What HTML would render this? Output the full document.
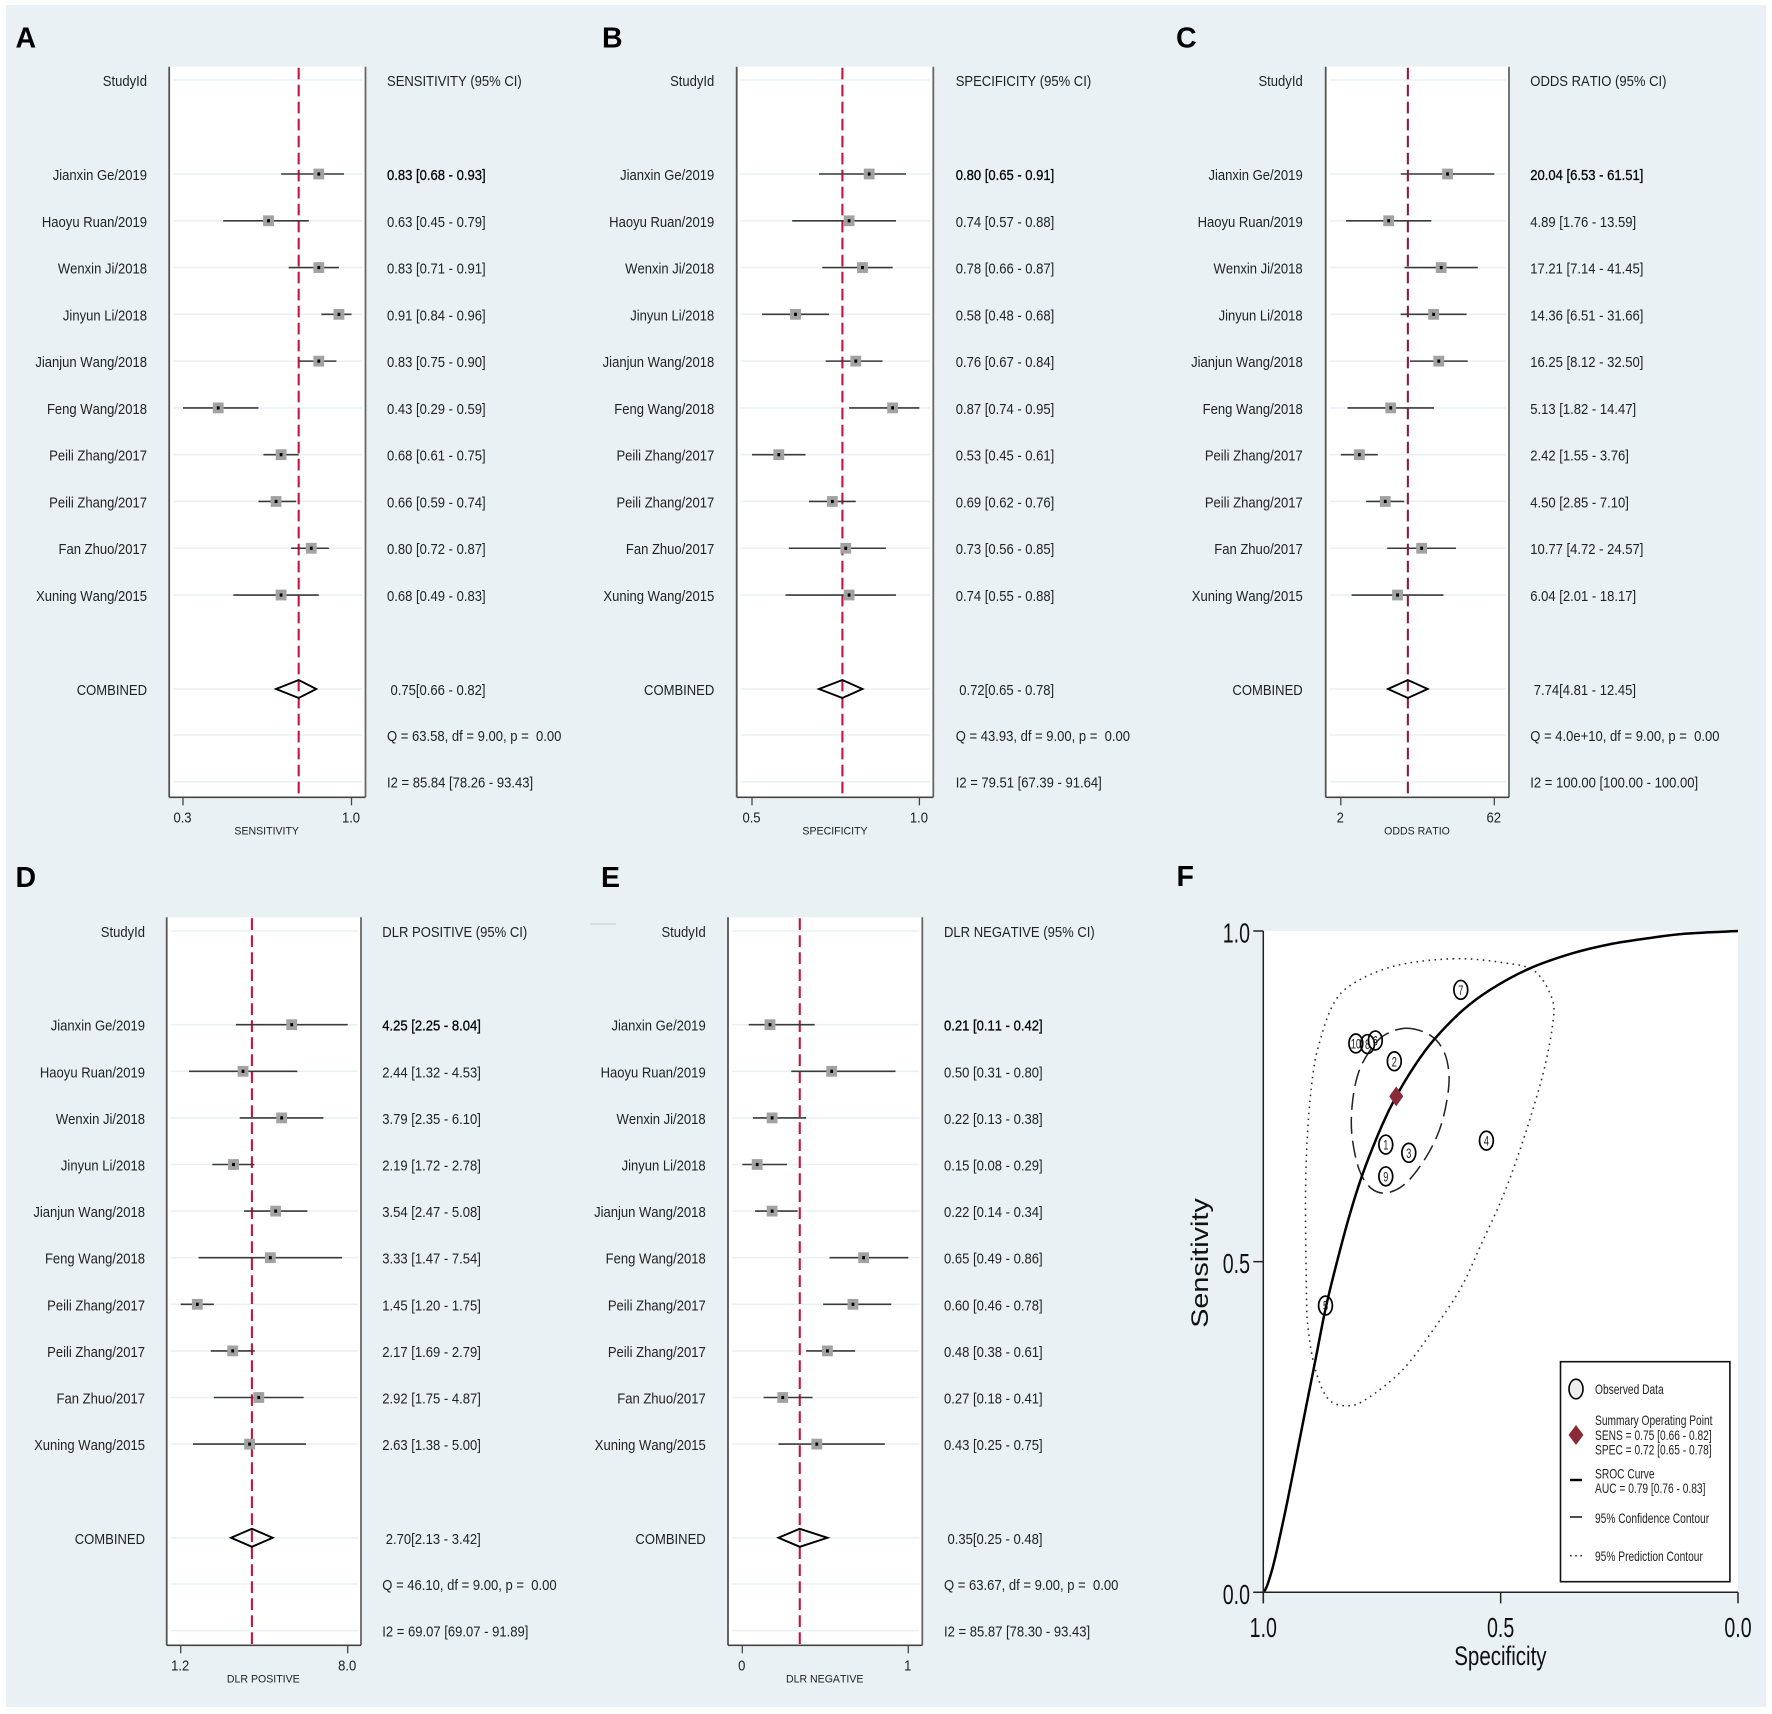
<!DOCTYPE html>
<html lang="en">
<head>
<meta charset="utf-8">
<title>Forest plots and SROC curve</title>
<style>
html,body{margin:0;padding:0;background:#fff;}
svg{display:block;filter:blur(0.35px);}
text{font-family:"Liberation Sans",Arial,sans-serif;white-space:pre;fill:#222;font-kerning:none;}
</style>
</head>
<body>
<svg id="root" xmlns="http://www.w3.org/2000/svg" width="1772" height="1714" viewBox="0 0 1772 1714">
<rect x="6" y="5" width="1760" height="1702" fill="#eaf1f4"/>
</svg>
<script>
const studies = ["Jianxin Ge/2019","Haoyu Ruan/2019","Wenxin Ji/2018","Jinyun Li/2018","Jianjun Wang/2018","Feng Wang/2018","Peili Zhang/2017","Peili Zhang/2017","Fan Zhuo/2017","Xuning Wang/2015"];

const sensEst = [0.83,0.63,0.83,0.91,0.83,0.43,0.68,0.66,0.80,0.68];
const sensLo  = [0.68,0.45,0.71,0.84,0.75,0.29,0.61,0.59,0.72,0.49];
const sensHi  = [0.93,0.79,0.91,0.96,0.90,0.59,0.75,0.74,0.87,0.83];
const sensCombined = [0.75,0.66,0.82];
const sensTicks = [0.29,0.96];
const sensTickLabels = ["0.3","1.0"];

const specEst = [0.80,0.74,0.78,0.58,0.76,0.87,0.53,0.69,0.73,0.74];
const specLo  = [0.65,0.57,0.66,0.48,0.67,0.74,0.45,0.62,0.56,0.55];
const specHi  = [0.91,0.88,0.87,0.68,0.84,0.95,0.61,0.76,0.85,0.88];
const specCombined = [0.72,0.65,0.78];
const specTicks = [0.45,0.95];
const specTickLabels = ["0.5","1.0"];

const orEst = [20.04,4.89,17.21,14.36,16.25,5.13,2.42,4.50,10.77,6.04];
const orLo  = [6.53,1.76,7.14,6.51,8.12,1.82,1.55,2.85,4.72,2.01];
const orHi  = [61.51,13.59,41.45,31.66,32.50,14.47,3.76,7.10,24.57,18.17];
const orCombined = [7.74,4.81,12.45];
const orTicks = [1.55,61.51];
const orTickLabels = ["2","62"];

const dlrPosEst = [4.25,2.44,3.79,2.19,3.54,3.33,1.45,2.17,2.92,2.63];
const dlrPosLo  = [2.25,1.32,2.35,1.72,2.47,1.47,1.20,1.69,1.75,1.38];
const dlrPosHi  = [8.04,4.53,6.10,2.78,5.08,7.54,1.75,2.79,4.87,5.00];
const dlrPosCombined = [2.70,2.13,3.42];
const dlrPosTicks = [1.20,8.04];
const dlrPosTickLabels = ["1.2","8.0"];

const dlrNegEst = [0.21,0.50,0.22,0.15,0.22,0.65,0.60,0.48,0.27,0.43];
const dlrNegLo  = [0.11,0.31,0.13,0.08,0.14,0.49,0.46,0.38,0.18,0.25];
const dlrNegHi  = [0.42,0.80,0.38,0.29,0.34,0.86,0.78,0.61,0.41,0.75];
const dlrNegCombined = [0.35,0.25,0.48];
const dlrNegTicks = [0.08,0.86];
const dlrNegTickLabels = ["0","1"];

const srocFpr  = [0,0.005,0.01,0.02,0.03,0.05,0.07,0.09,0.11,0.13,0.15,0.18,0.21,0.25,0.28,0.32,0.36,0.42,0.48,0.56,0.65,0.73,0.81,0.89,1];
const srocSens = [0,0.005,0.014,0.038,0.068,0.135,0.207,0.28,0.352,0.425,0.485,0.566,0.634,0.706,0.75,0.7975,0.836,0.88,0.912,0.943,0.966,0.98,0.989,0.996,1];

const confFpr  = [0.301,0.350,0.379,0.391,0.387,0.371,0.342,0.301,0.260,0.227,0.202,0.187,0.187,0.198,0.219,0.252];
const confSens = [0.853,0.843,0.820,0.785,0.745,0.699,0.657,0.619,0.604,0.611,0.639,0.689,0.735,0.780,0.813,0.841];

const predFpr  = [0.399,0.506,0.572,0.609,0.609,0.593,0.572,0.543,0.506,0.457,0.416,0.358,0.293,0.219,0.178,0.136,0.108,0.094,0.091,0.089,0.094,0.104,0.116,0.145,0.186,0.276];
const predSens = [0.958,0.952,0.939,0.896,0.856,0.795,0.740,0.674,0.601,0.523,0.460,0.397,0.336,0.293,0.282,0.293,0.341,0.402,0.450,0.604,0.704,0.780,0.825,0.886,0.919,0.947];

const obsFpr  = [0.195,0.258,0.2195,0.416,0.236,0.131,0.470,0.3065,0.276,0.258];
const obsSens = [0.830,0.629,0.829,0.911,0.8345,0.4336,0.683,0.6646,0.803,0.677];

const rocTicks = [0,0.5,1];
const rocTickLabels = ["0.0","0.5","1.0"];

const NS = "http://www.w3.org/2000/svg";
const root = document.getElementById("root");

function mk(parent, tag, name, attrs) {
  const el = document.createElementNS(NS, tag);
  
  
  for (const k in attrs) el.setAttribute(k, attrs[k]);
  parent.appendChild(el);
  return el;
}
function txt(parent, name, str, x, y, o) {
  o = o || {};
  const sx = o.sx === undefined ? 0.9 : o.sx;
  const t = mk(parent, "text", name, {
    transform: o.transform || ("translate(" + x + " " + y + ") scale(" + sx + " 1)"),
    "font-size": o.size || 14.5,
    "text-anchor": o.anchor || "start"
  });
  if (o.weight) t.setAttribute("font-weight", o.weight);
  if (o.fill) t.style.fill = o.fill;
  if (o.bold) { t.style.stroke = "#111"; t.style.strokeWidth = "0.3"; t.style.fill = "#000"; }
  t.textContent = str;
  return t;
}
function line(parent, name, x1, y1, x2, y2, stroke, w, dash) {
  const l = mk(parent, "line", name, {x1, y1, x2, y2, stroke, "stroke-width": w});
  if (dash) l.setAttribute("stroke-dasharray", dash);
  return l;
}
function linearAxis(domain, range) {
  return v => range[0] + (v - domain[0]) / (domain[1] - domain[0]) * (range[1] - range[0]);
}
function logAxis(domain, range) {
  return v => range[0] + Math.log(v / domain[0]) / Math.log(domain[1] / domain[0]) * (range[1] - range[0]);
}
const f2 = v => v.toFixed(2);

function drawForest(c) {
  const g = mk(root, "g", "forest-plot-" + c.id, {});
  const x = (c.log ? logAxis : linearAxis)(c.ticks, c.tickPx);
  mk(g, "rect", "plot-area", {x: c.left, y: c.top, width: c.right - c.left, height: c.bottom - c.top, fill: "#fff"});
  txt(g, "panel-letter", c.letter, c.letterX, c.letterY, {size: 28.5, weight: "bold", sx: 1, fill: "#000"});

  const rowY = i => c.first + i * c.step;
  const gridYs = [c.header].concat(studies.map((s, i) => rowY(i)), [c.combined, c.qY, c.i2Y]);
  gridYs.forEach(y => {
    line(g, "grid-line", c.left + 4, y, c.right - 3, y, "#e9f1f5", 1.6);
  });

  line(g, "left-axis", c.left, c.top, c.left, c.bottom, "#555", 1.8);
  line(g, "right-axis", c.right, c.top, c.right, c.bottom, "#666", 1.8);
  line(g, "x-axis", c.left, c.bottom, c.right, c.bottom, "#444", 1.6);

  c.ticks.forEach((t, i) => {
    line(g, "x-tick", x(t), c.bottom, x(t), c.bottom + 8, "#444", 1.3);
    txt(g, "x-tick-label", c.tickLabels[i], x(t) - 0.5, c.bottom + 25, {anchor: "middle"});
  });
  txt(g, "x-axis-title", c.xlabel, c.xlabelX, c.bottom + 37, {anchor: "middle", size: 11.5, sx: 0.92});

  txt(g, "study-column-header", "StudyId", c.labelX, c.header + 6, {anchor: "end"});
  txt(g, "ci-column-header", c.title, c.ciX, c.header + 6);

  line(g, "combined-estimate-line", x(c.comb[0]), c.top + 1, x(c.comb[0]), c.bottom, c.red, 2.1, "11.7 5.3");

  studies.forEach((s, i) => {
    const y = rowY(i);
    txt(g, "study-label", s, c.labelX, y + 6, {anchor: "end"});
    line(g, "ci-line", x(c.lo[i]), y, x(c.hi[i]), y, "#3a3a3a", 1.6);
    mk(g, "rect", "study-marker", {x: x(c.est[i]) - 5.4, y: y - 5.4, width: 10.8, height: 10.8, fill: "#a2a2a2"});
    mk(g, "rect", "study-marker-centre", {x: x(c.est[i]) - 1.4, y: y - 1.6, width: 2.8, height: 3.2, fill: "#000"});
    txt(g, "study-ci-text", f2(c.est[i]) + " [" + f2(c.lo[i]) + " - " + f2(c.hi[i]) + "]", c.ciX, y + 6, {bold: i === 0});
  });

  const cy = c.combined;
  txt(g, "combined-label", "COMBINED", c.labelX, cy + 6, {anchor: "end"});
  mk(g, "polygon", "combined-diamond", {
    points: [x(c.comb[1]) + "," + cy, x(c.comb[0]) + "," + (cy - 9), x(c.comb[2]) + "," + cy, x(c.comb[0]) + "," + (cy + 9)].join(" "),
    fill: "none", stroke: "#000", "stroke-width": 1.9
  });
  txt(g, "combined-ci-text", f2(c.comb[0]) + "[" + f2(c.comb[1]) + " - " + f2(c.comb[2]) + "]", c.ciX + 3.5, cy + 6);
  txt(g, "heterogeneity-q", c.q, c.ciX, c.qY + 6);
  txt(g, "heterogeneity-i2", c.i2, c.ciX, c.i2Y + 6);
}

const TOP = {top: 66.7, bottom: 797.3, header: 80, first: 174, step: 46.78, combined: 689, qY: 735, i2Y: 781.7};
const BOT = {top: 917.3, bottom: 1645.3, header: 931, first: 1024.7, step: 46.6, combined: 1537.8, qY: 1584, i2Y: 1630.7};

drawForest(Object.assign({}, TOP, {id: "sensitivity", letter: "A", letterX: 15.5, letterY: 47.5, left: 169.2, right: 365.5, labelX: 147, ciX: 387, xlabelX: 266.7,
  title: "SENSITIVITY (95% CI)", xlabel: "SENSITIVITY", est: sensEst, lo: sensLo, hi: sensHi, comb: sensCombined, ticks: sensTicks, tickLabels: sensTickLabels, tickPx: [183, 351.5], log: false, red: "#c8143c",
  q: "Q = 63.58, df = 9.00, p =  0.00", i2: "I2 = 85.84 [78.26 - 93.43]"}));
drawForest(Object.assign({}, TOP, {id: "specificity", letter: "B", letterX: 602, letterY: 47.5, left: 736.7, right: 933.3, labelX: 714.3, ciX: 955.7, xlabelX: 835,
  title: "SPECIFICITY (95% CI)", xlabel: "SPECIFICITY", est: specEst, lo: specLo, hi: specHi, comb: specCombined, ticks: specTicks, tickLabels: specTickLabels, tickPx: [752, 919.4], log: false, red: "#c8143c",
  q: "Q = 43.93, df = 9.00, p =  0.00", i2: "I2 = 79.51 [67.39 - 91.64]"}));
drawForest(Object.assign({}, TOP, {id: "odds-ratio", letter: "C", letterX: 1176, letterY: 47.5, left: 1325.7, right: 1509, labelX: 1302.7, ciX: 1530.3, xlabelX: 1417,
  title: "ODDS RATIO (95% CI)", xlabel: "ODDS RATIO", est: orEst, lo: orLo, hi: orHi, comb: orCombined, ticks: orTicks, tickLabels: orTickLabels, tickPx: [1340.8, 1494.3], log: true, red: "#8f1a44",
  q: "Q = 4.0e+10, df = 9.00, p =  0.00", i2: "I2 = 100.00 [100.00 - 100.00]"}));
drawForest(Object.assign({}, BOT, {id: "dlr-positive", letter: "D", letterX: 15.5, letterY: 887, left: 166.7, right: 361, labelX: 145, ciX: 382.3, xlabelX: 263.3,
  title: "DLR POSITIVE (95% CI)", xlabel: "DLR POSITIVE", est: dlrPosEst, lo: dlrPosLo, hi: dlrPosHi, comb: dlrPosCombined, ticks: dlrPosTicks, tickLabels: dlrPosTickLabels, tickPx: [180.7, 347.7], log: true, red: "#c8143c",
  q: "Q = 46.10, df = 9.00, p =  0.00", i2: "I2 = 69.07 [69.07 - 91.89]"}));
drawForest(Object.assign({}, BOT, {id: "dlr-negative", letter: "E", letterX: 601, letterY: 887, left: 728, right: 922.3, labelX: 705.7, ciX: 944, xlabelX: 824.7,
  title: "DLR NEGATIVE (95% CI)", xlabel: "DLR NEGATIVE", est: dlrNegEst, lo: dlrNegLo, hi: dlrNegHi, comb: dlrNegCombined, ticks: dlrNegTicks, tickLabels: dlrNegTickLabels, tickPx: [742.3, 908.3], log: false, red: "#c8143c",
  q: "Q = 63.67, df = 9.00, p =  0.00", i2: "I2 = 85.87 [78.30 - 93.43]"}));

line(root, "scan-artifact", 590, 924, 616, 924, "#c6cbce", 1);

/* Panel F: SROC */
(function () {
  const g = mk(root, "g", "sroc-plot", {});
  const L = 1263.3, R = 1738, T = 931, B = 1592.3;
  const xFpr = linearAxis([0, 1], [L, R]);
  const ySens = linearAxis([0, 1], [B, T]);

  mk(g, "rect", "sroc-plot-area", {x: L, y: T, width: R - L, height: B - T, fill: "#fff"});
  txt(g, "panel-letter", "F", 1176.5, 886, {size: 28.5, weight: "bold", sx: 1, fill: "#000"});

  function smoothClosed(xs, ys) {
    const n = xs.length, P = xs.map((v, i) => [xFpr(v), ySens(ys[i])]);
    let d = "M" + P[0][0] + " " + P[0][1];
    for (let i = 0; i < n; i++) {
      const p0 = P[(i - 1 + n) % n], p1 = P[i], p2 = P[(i + 1) % n], p3 = P[(i + 2) % n];
      d += " C" + (p1[0] + (p2[0] - p0[0]) / 6) + " " + (p1[1] + (p2[1] - p0[1]) / 6) + " " +
        (p2[0] - (p3[0] - p1[0]) / 6) + " " + (p2[1] - (p3[1] - p1[1]) / 6) + " " + p2[0] + " " + p2[1];
    }
    return d + "Z";
  }
  function smoothOpen(xs, ys) {
    const P = xs.map((v, i) => [xFpr(v), ySens(ys[i])]), n = P.length;
    let d = "M" + P[0][0] + " " + P[0][1];
    for (let i = 0; i < n - 1; i++) {
      const p0 = P[Math.max(i - 1, 0)], p1 = P[i], p2 = P[i + 1], p3 = P[Math.min(i + 2, n - 1)];
      d += " C" + (p1[0] + (p2[0] - p0[0]) / 6) + " " + (p1[1] + (p2[1] - p0[1]) / 6) + " " +
        (p2[0] - (p3[0] - p1[0]) / 6) + " " + (p2[1] - (p3[1] - p1[1]) / 6) + " " + p2[0] + " " + p2[1];
    }
    return d;
  }

  mk(g, "path", "prediction-contour", {d: smoothClosed(predFpr, predSens), fill: "none", stroke: "#333", "stroke-width": 1.6, "stroke-dasharray": "1.6 4.4"});
  mk(g, "path", "confidence-contour", {d: smoothClosed(confFpr, confSens), fill: "none", stroke: "#222", "stroke-width": 1.5, "stroke-dasharray": "17 7"});
  mk(g, "path", "sroc-curve", {d: smoothOpen(srocFpr, srocSens), fill: "none", stroke: "#000", "stroke-width": 2.5});

  studies.forEach((s, i) => {
    const px = xFpr(obsFpr[i]), py = ySens(obsSens[i]);
    mk(g, "ellipse", "observed-point", {cx: px, cy: py, rx: 6.9, ry: 9.4, fill: "none", stroke: "#000", "stroke-width": 1.7});
    txt(g, "observed-point-label", String(studies.length - i), px, py + 5, {anchor: "middle", size: 13.5, sx: 0.68, fill: "#222"});
  });

  const sx = xFpr(1 - specCombined[0]), sy = ySens(sensCombined[0]);
  mk(g, "polygon", "summary-operating-point", {points: (sx - 7) + "," + sy + " " + sx + "," + (sy - 10) + " " + (sx + 7) + "," + sy + " " + sx + "," + (sy + 10), fill: "#8b2a37"});

  line(g, "y-axis", L, T, L, B + 11, "#222", 1.5);
  line(g, "x-axis", L - 10, B, R, B, "#222", 1.5);
  rocTicks.forEach((t, i) => {
    const yy = ySens(t), xx = xFpr(1 - t);
    line(g, "y-tick", L - 10, yy, L, yy, "#222", 1.5);
    txt(g, "y-tick-label", rocTickLabels[i], 1250, yy + 11.5, {anchor: "end", size: 28, sx: 0.7, fill: "#111"});
    line(g, "x-tick", xx, B, xx, B + 11, "#222", 1.5);
    txt(g, "x-tick-label", rocTickLabels[i], xx, 1637, {anchor: "middle", size: 28, sx: 0.7, fill: "#111"});
  });
  txt(g, "x-axis-title", "Specificity", 1500.4, 1665, {anchor: "middle", size: 27, sx: 0.76, fill: "#111"});
  txt(g, "y-axis-title", "Sensitivity", 0, 0, {anchor: "middle", size: 24, transform: "translate(1208 1263) rotate(-90) scale(1.2 1)", fill: "#111"});

  const lg = mk(g, "g", "legend", {});
  mk(lg, "rect", "legend-box", {x: 1560.5, y: 1361.7, width: 169.4, height: 220, fill: "#fff", stroke: "#111", "stroke-width": 1.6});
  mk(lg, "ellipse", "legend-observed-symbol", {cx: 1576, cy: 1389, rx: 7, ry: 9.8, fill: "#eee", stroke: "#000", "stroke-width": 1.6});
  mk(lg, "polygon", "legend-summary-symbol", {points: "1568.5,1435 1576,1425 1583.5,1435 1576,1445", fill: "#8b2a37"});
  line(lg, "legend-sroc-symbol", 1570, 1480, 1582, 1480, "#000", 2.4);
  line(lg, "legend-confidence-symbol", 1570, 1517, 1582, 1517, "#222", 1.6);
  line(lg, "legend-prediction-symbol", 1570, 1555.7, 1582, 1555.7, "#333", 1.6, "1.6 3.6");
  const rows = [["Observed Data", 1394], ["Summary Operating Point", 1425], ["SENS = 0.75 [0.66 - 0.82]", 1440], ["SPEC = 0.72 [0.65 - 0.78]", 1454.5],
    ["SROC Curve", 1478.5], ["AUC = 0.79 [0.76 - 0.83]", 1493], ["95% Confidence Contour", 1523], ["95% Prediction Contour", 1561]];
  rows.forEach(r => {
    txt(lg, "legend-text", r[0], 1595, r[1], {size: 14, sx: 0.73, fill: "#222"});
  });
})();
</script>
</body>
</html>
